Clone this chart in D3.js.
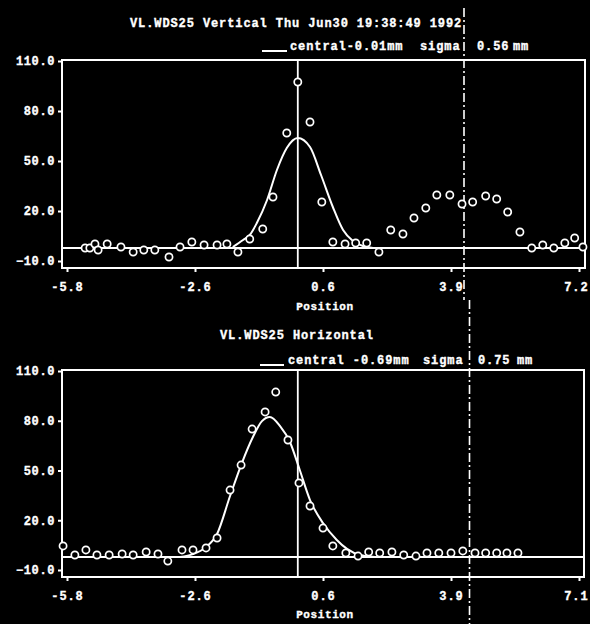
<!DOCTYPE html>
<html>
<head>
<meta charset="utf-8">
<script src="https://cdn.jsdelivr.net/npm/d3@7"></script>
<style>
  html, body { margin: 0; padding: 0; background: #000; }
  svg { display: block; }
  text { font-family: "Liberation Mono", "DejaVu Sans Mono", monospace; font-weight: bold; fill: #fff; }
</style>
</head>
<body>
<svg id="chart" width="590" height="624"></svg>
<script>
// ---------------- data ----------------
const xTickValues = [-5.8, -2.55, 0.7, 3.95, 7.2];
const topXLabels = ["-5.8", "-2.6", "0.6", "3.9", "7.2"];
const bottomXLabels = ["-5.8", "-2.6", "0.6", "3.9", "7.1"];
const yTickValues = [110, 80, 50, 20, -10];

// Vertical scan: measured points
const vertX = [-5.34, -5.22, -5.09, -5.01, -4.78, -4.43, -4.12, -3.85, -3.57, -3.21, -2.93, -2.63, -2.32, -1.99, -1.74, -1.46, -1.16, -0.83, -0.57, -0.22, 0.06, 0.37, 0.67, 0.95, 1.26, 1.53, 1.81, 2.12, 2.42, 2.73, 3.01, 3.31, 3.59, 3.92, 4.23, 4.50, 4.83, 5.11, 5.39, 5.70, 6.00, 6.28, 6.56, 6.84, 7.09, 7.30];
const vertY = [-2.2, -2.2, 0.2, -3.4, 0.2, -1.6, -4.6, -3.4, -3.4, -7.6, -1.6, 1.4, -0.4, -0.4, 0.2, -4.6, 3.2, 9.2, 28.4, 66.8, 97.4, 73.4, 25.4, 1.4, 0.2, 0.8, 0.8, -4.6, 8.6, 6.2, 15.8, 21.8, 29.6, 29.6, 24.2, 25.4, 29.0, 27.2, 19.4, 7.4, -2.2, -0.4, -2.2, 0.8, 3.8, -1.6];
// Vertical scan: fitted curve
const vertFitX = [-1.59, -1.33, -1.16, -0.98, -0.72, -0.47, -0.22, 0.06, 0.37, 0.65, 0.95, 1.21, 1.46, 1.71, 1.97];
const vertFitY = [-1.6, 2.6, 5.6, 12.8, 26.6, 44.6, 57.8, 63.8, 58.4, 41.6, 22.4, 8.6, 2.0, -1.0, -2.2];
const vertBaseline = -2.2;
const vertRefX = 0.06;
const vertDashX = 4.28;

// Horizontal scan: measured points
const horX = [-5.90, -5.60, -5.32, -5.04, -4.73, -4.40, -4.12, -3.79, -3.49, -3.24, -2.88, -2.60, -2.27, -1.99, -1.66, -1.38, -1.10, -0.77, -0.50, -0.19, 0.09, 0.37, 0.70, 0.95, 1.28, 1.59, 1.86, 2.14, 2.45, 2.75, 3.06, 3.34, 3.64, 3.95, 4.25, 4.56, 4.83, 5.11, 5.37, 5.65];
const horY = [4.5, -0.95, 2.1, -0.95, -0.95, -0.35, -0.95, 0.85, -0.35, -4.6, 2.1, 2.1, 3.3, 9.3, 38.2, 53.3, 75.0, 85.3, 97.3, 68.4, 42.5, 28.6, 15.3, 4.5, 0.25, -1.6, 0.85, 0.25, 0.85, -0.95, -1.6, 0.25, 0.25, 0.25, 1.5, 0.25, 0.25, 0.25, 0.25, 0.25];
// Horizontal scan: fitted curve
const horFitX = [-2.93, -2.60, -2.30, -1.99, -1.66, -1.36, -1.08, -0.85, -0.65, -0.39, -0.14, 0.11, 0.37, 0.70, 1.05, 1.31, 1.64, 2.02];
const horFitY = [-2.2, -0.4, 3.3, 11.7, 34.6, 54.5, 70.2, 79.8, 82.3, 76.8, 67.2, 50.3, 32.2, 18.3, 8.1, 2.7, -1.0, -2.2];
const horBaseline = -2.2;
const horRefX = 0.06;
const horDashX = 4.42;

const panelTitles = ["VL.WDS25 Vertical Thu Jun30 19:38:49 1992", "VL.WDS25 Horizontal"];
const legendCentral = ["central-0.01mm", "central -0.69mm"];
const legendSigma = ["0.56", "0.75"];
const xAxisTitle = "Position";

// ---------------- drawing ----------------
const svg = d3.select("#chart");
svg.append("rect").attr("width", 590).attr("height", 624).attr("fill", "#000");

const panels = [
  { px: vertX, py: vertY, fx: vertFitX, fy: vertFitY, base: vertBaseline, ref: vertRefX, dash: vertDashX,
    labels: topXLabels, frameTop: 60, frameBottom: 268, frameLeft: 62, frameRight: 585,
    yRange: [261, 61], titleY: 27, titleX: 130, legY: 50, xLabY: 292, posY: 310, dashTop: 8, dashBottom: 300,
    centralX: 290, sigmaX: 420, valX: 477, mmX: 513, lineX: [262, 287] },
  { px: horX, py: horY, fx: horFitX, fy: horFitY, base: horBaseline, ref: horRefX, dash: horDashX,
    labels: bottomXLabels, frameTop: 370, frameBottom: 577, frameLeft: 62, frameRight: 584,
    yRange: [570, 371], titleY: 339, titleX: 220, legY: 364, xLabY: 601, posY: 618, dashTop: 300, dashBottom: 624,
    centralX: 288, sigmaX: 423, valX: 478, mmX: 517, lineX: [260, 284] }
];

const x = d3.scaleLinear().domain([-5.8, 7.2]).range([67, 579]);

function styleText(sel, size, spacing) {
  sel.attr("font-size", size).attr("letter-spacing", spacing)
    .attr("stroke", "#fff").attr("stroke-width", 0.35);
  return sel;
}

panels.forEach((p, i) => {
  const y = d3.scaleLinear().domain([-10, 110]).range(p.yRange);
  const g = svg.append("g");

  // title & legend
  styleText(g.append("text").attr("x", p.titleX).attr("y", p.titleY), 12, 0.9).text(panelTitles[i]);
  g.append("line").attr("x1", p.lineX[0]).attr("x2", p.lineX[1]).attr("y1", p.legY + 1).attr("y2", p.legY + 1)
    .attr("stroke", "#fff").attr("stroke-width", 2);
  styleText(g.append("text").attr("x", p.centralX).attr("y", p.legY), 12, 0.9).text(legendCentral[i]);
  styleText(g.append("text").attr("x", p.sigmaX).attr("y", p.legY), 12, 0.9).text("sigma");
  styleText(g.append("text").attr("x", p.valX).attr("y", p.legY), 12, 0.9).text(legendSigma[i]);
  styleText(g.append("text").attr("x", p.mmX).attr("y", p.legY), 12, 0.9).text("mm");

  // frame
  g.append("rect").attr("x", p.frameLeft).attr("y", p.frameTop)
    .attr("width", p.frameRight - p.frameLeft).attr("height", p.frameBottom - p.frameTop)
    .attr("fill", "none").attr("stroke", "#fff").attr("stroke-width", 2);

  // y axis
  const yAxis = g.append("g").attr("transform", `translate(${p.frameLeft},0)`)
    .call(d3.axisLeft(y).tickValues(yTickValues).tickSize(4).tickPadding(3).tickFormat(d3.format(".1f")));
  yAxis.select(".domain").remove();
  yAxis.selectAll("line").attr("stroke", "#fff").attr("stroke-width", 2);
  styleText(yAxis.selectAll("text"), 12, 0.6).attr("fill", "#fff")
    .style("font-family", "'Liberation Mono', monospace").style("font-weight", "bold");

  // x axis
  const xAxis = g.append("g").attr("transform", `translate(0,${p.frameBottom})`)
    .call(d3.axisBottom(x).tickValues(xTickValues).tickSize(4).tickPadding(10)
      .tickFormat((d, k) => p.labels[k]));
  xAxis.select(".domain").remove();
  xAxis.selectAll("line").attr("stroke", "#fff").attr("stroke-width", 2);
  styleText(xAxis.selectAll("text"), 12, 0.9).attr("fill", "#fff")
    .style("font-family", "'Liberation Mono', monospace").style("font-weight", "bold");
  // keep the last label inside the page
  xAxis.selectAll(".tick").filter((d, k) => k === xTickValues.length - 1)
    .select("text").attr("text-anchor", "end").attr("x", 9);

  styleText(g.append("text").attr("x", x(0.75)).attr("y", p.posY).attr("text-anchor", "middle"), 11, 0.6)
    .text(xAxisTitle);

  // baseline
  g.append("line").attr("x1", p.frameLeft).attr("x2", p.frameRight)
    .attr("y1", y(p.base)).attr("y2", y(p.base)).attr("stroke", "#fff").attr("stroke-width", 2);

  // reference solid vertical line
  g.append("line").attr("x1", x(p.ref)).attr("x2", x(p.ref))
    .attr("y1", p.frameTop).attr("y2", p.frameBottom).attr("stroke", "#fff").attr("stroke-width", 1.8);

  // dash-dot vertical line
  g.append("line").attr("x1", x(p.dash)).attr("x2", x(p.dash))
    .attr("y1", p.dashTop).attr("y2", p.dashBottom).attr("stroke", "#fff").attr("stroke-width", 1.6)
    .attr("stroke-dasharray", "9,3,2,3");

  // fitted curve
  const fit = p.fx.map((v, k) => [v, p.fy[k]]);
  g.append("path").datum(fit)
    .attr("d", d3.line().x(d => x(d[0])).y(d => y(d[1])).curve(d3.curveMonotoneX))
    .attr("fill", "none").attr("stroke", "#fff").attr("stroke-width", 2);

  // points
  const pts = p.px.map((v, k) => [v, p.py[k]]);
  g.selectAll("circle.pt").data(pts).join("circle").attr("class", "pt")
    .attr("cx", d => x(d[0])).attr("cy", d => y(d[1])).attr("r", 3.6)
    .attr("fill", "#000").attr("stroke", "#fff").attr("stroke-width", 1.7);
});
</script>
</body>
</html>
